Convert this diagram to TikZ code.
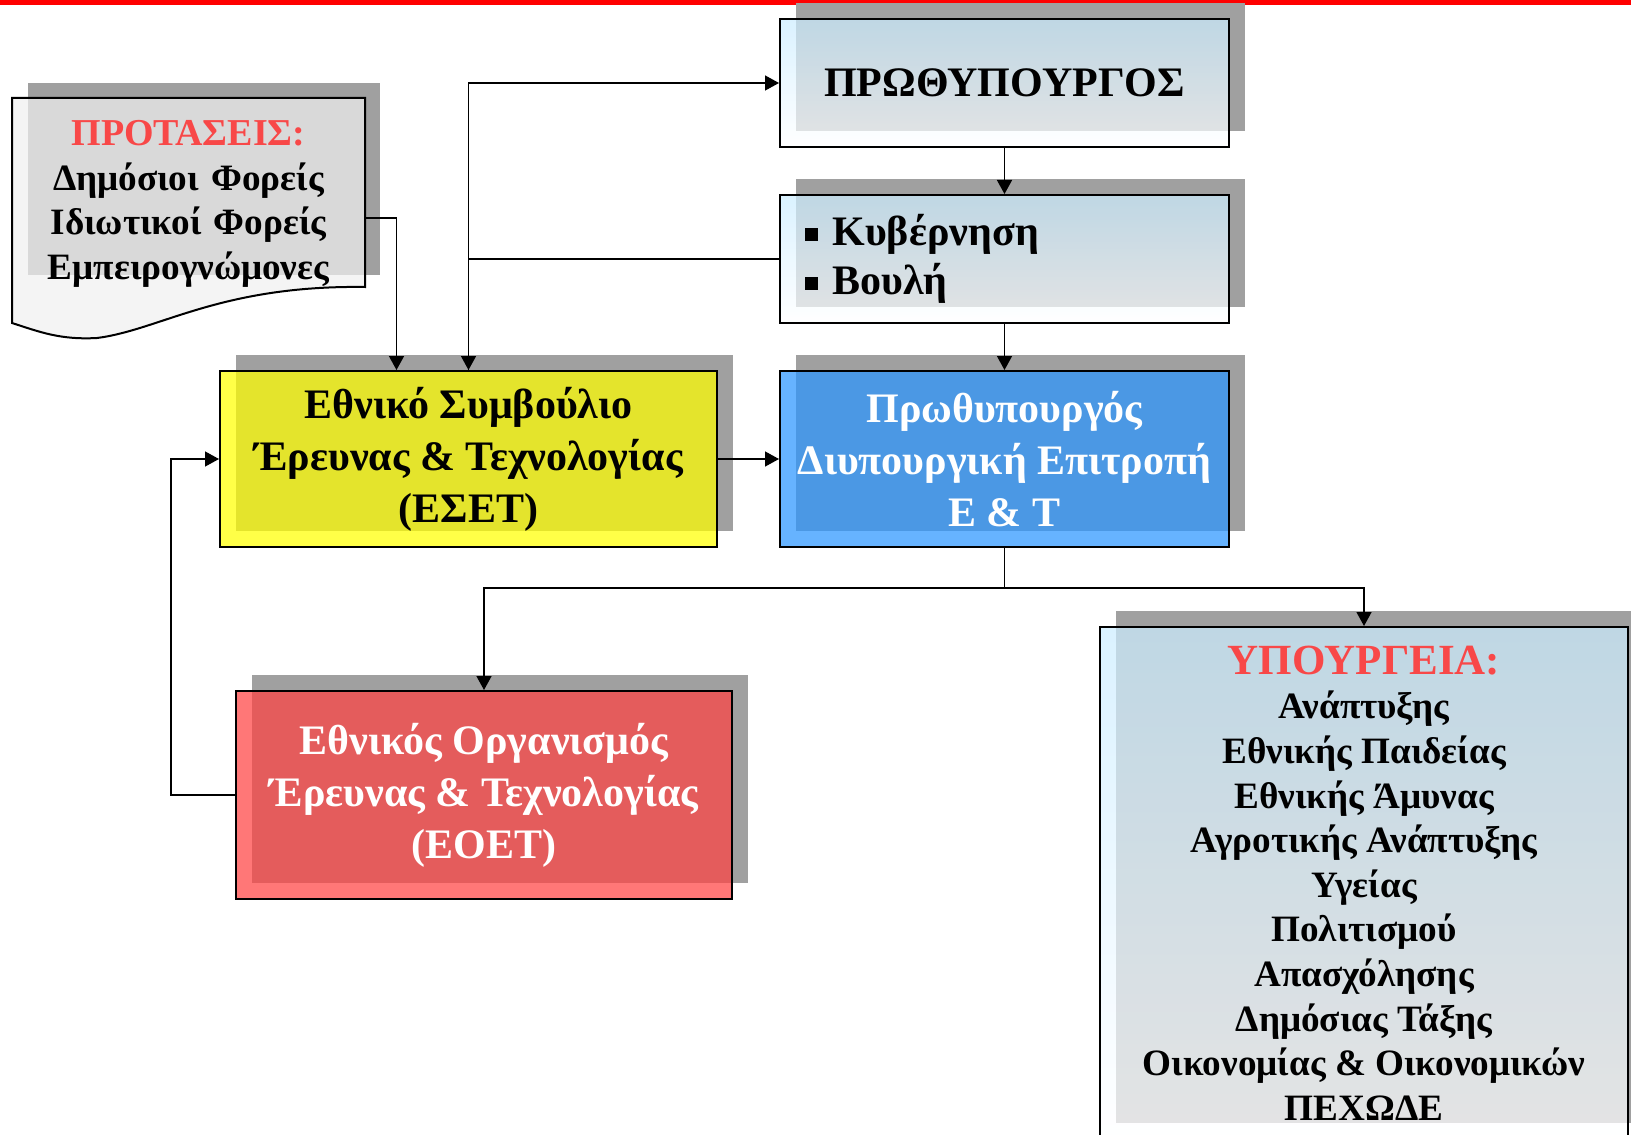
\documentclass[tikz,border=0pt]{standalone}
\usepackage{fontspec}
\setmainfont{Liberation Serif}
\usetikzlibrary{arrows.meta,shadows}

\definecolor{shadowgray}{HTML}{A0A0A0}
\definecolor{topblue}{RGB}{204,237,255}
\definecolor{eyellow}{RGB}{255,255,0}
\definecolor{eblue}{RGB}{43,150,255}
\definecolor{ered}{RGB}{255,67,67}
\definecolor{titlered}{HTML}{F84848}

\newcommand\boxfont{\fontsize{21pt}{26pt}\selectfont\bfseries}
\newcommand\listfont{\fontsize{18.6pt}{22.3pt}\selectfont\bfseries}
\newcommand\titlefont{\color{titlered}\fontsize{21.5pt}{24pt}\selectfont\bfseries}
\newcommand\blt{\rule[0.12em]{6.5pt}{6.5pt}\hspace{7.5pt}}

\tikzset{
  box/.style={draw=black, line width=1pt, inner sep=0pt, align=center,
    fill opacity=0.72, text opacity=1, font=\boxfont,
    drop shadow={shadow xshift=8pt, shadow yshift=8pt, fill=shadowgray, opacity=1}},
  lightbox/.style={box, top color=topblue, bottom color=white},
  link/.style={draw, line width=0.7pt, ->},
}

\begin{document}
\begin{tikzpicture}[x=0.5pt, y=-0.5pt, >={Triangle[length=7pt,width=7.5pt]}]
    \useasboundingbox (0,0) rectangle (1631,1134);
    \fill[red] (0,0) rectangle (1631,5);

    % proposals
    \fill[shadowgray] (28,83) rectangle (380,275);
    \filldraw[line width=1pt, fill=gray!12, fill opacity=0.72] (12,98) -- (365,98) -- (365,287)
        .. controls (220,285) and (160,330) .. (97,338)
        .. controls (60,340) and (40,332) .. (12,323) -- cycle;
    \node[text width=176.5pt, align=center, inner sep=0pt, font=\listfont] (prop) at (188.5,204)
        {{\titlefont\fontsize{19pt}{24pt}\selectfont ΠΡΟΤΑΣΕΙΣ:}\\
        Δημόσιοι Φορείς\\ Ιδιωτικοί Φορείς\\ Εμπειρογνώμονες};

    % boxes
    \node[lightbox, minimum width=224.5pt, minimum height=64pt] (pm) at (1004.5,83)
        {ΠΡΩΘΥΠΟΥΡΓΟΣ};
    \node[lightbox, minimum width=224.5pt, minimum height=64pt, text width=200pt,
        inner xsep=12pt, align=left, font=\fontsize{21pt}{24.5pt}\selectfont\bfseries] (kyv) at (1004.5,259)
        {\blt Κυβέρνηση\\ \blt Βουλή};
    \node[box, fill=eyellow, minimum width=248.5pt, minimum height=88pt] (eset) at (468.5,459)
        {Εθνικό Συμβούλιο\\ Έρευνας \& Τεχνολογίας\\ (ΕΣΕΤ)};
    \node[box, fill=eblue, text=white, minimum width=224.5pt, minimum height=88pt] (epit) at (1004.5,459)
        {Πρωθυπουργός\\ Διυπουργική Επιτροπή\\ Ε \& Τ};
    \node[box, fill=ered, text=white, minimum width=248pt, minimum height=104pt] (eoet) at (484,795)
        {Εθνικός Οργανισμός\\ Έρευνας \& Τεχνολογίας\\ (ΕΟΕΤ)};
    \node[lightbox, minimum width=264pt, minimum height=256pt, font=\listfont] (ypo) at (1364,883)
        {{\titlefont ΥΠΟΥΡΓΕΙΑ:}\\
        Ανάπτυξης\\ Εθνικής Παιδείας\\ Εθνικής Άμυνας\\ Αγροτικής Ανάπτυξης\\
        Υγείας\\ Πολιτισμού\\ Απασχόλησης\\ Δημόσιας Τάξης\\
        Οικονομίας \& Οικονομικών\\ ΠΕΧΩΔΕ};

    % connectors
    \draw[link] (pm) -- (kyv);
    \draw[link] (kyv) -- (epit);
    \draw[link] (kyv.west) -| (eset.north);
    \draw[link] (eset.north) |- (pm.west);
    \draw[link] ([yshift=-7pt]prop.east) -| ([xshift=-36pt]eset.north);
    \draw[link] (eset) -- (epit);
    \draw[link] (epit.south) -- ++(0,40) -| (eoet.north);
    \draw[link] (epit.south) -- ++(0,40) -| (ypo.north);
    \draw[link] (eoet.west) -- ++(-64,0) |- (eset.west);
\end{tikzpicture}
\end{document}
